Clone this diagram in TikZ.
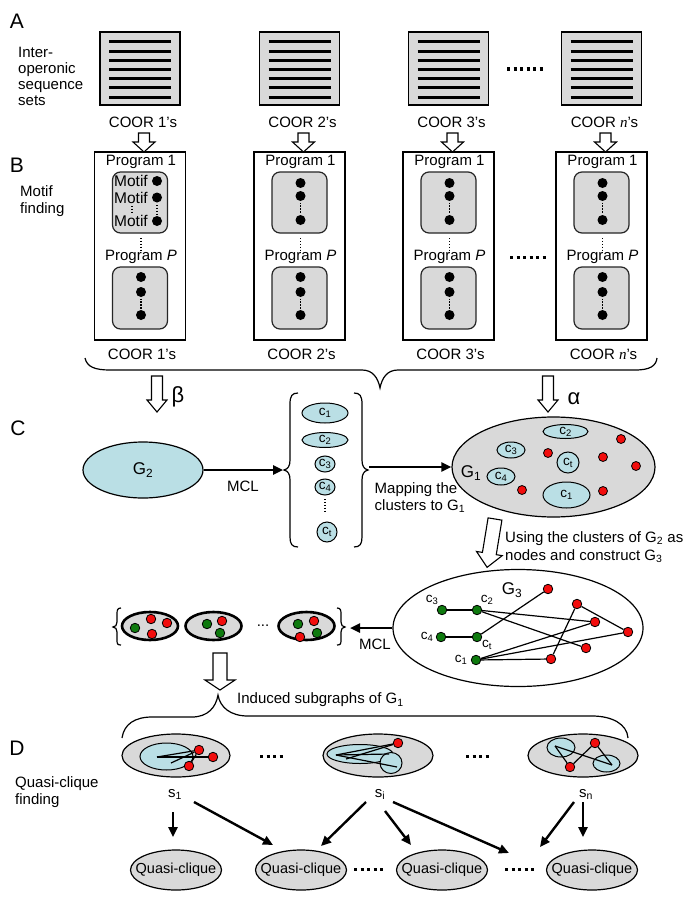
\documentclass[tikz,border=0pt]{standalone}
\usepackage{fontspec}
\setmainfont{Liberation Sans}
\newfontfamily\tnrfont{Liberation Serif}
\usetikzlibrary{shapes.geometric,arrows.meta,calc}
\definecolor{boxgray}{HTML}{D9D9D9}
\definecolor{cyanfill}{HTML}{BADFE5}
\definecolor{nred}{HTML}{F20D0D}
\definecolor{ngreen}{HTML}{0E7A0E}
\newcommand{\mysub}[1]{\textsubscript{#1}}
\newcommand{\nit}{{\tnrfont\itshape n}}
\newcommand{\hollowarrow}[6]{%
  \begin{scope}[shift={(#1)},rotate=#2]
    \draw[hollowstyle] (-#4,0) -- (#4,0) -- (#4,#3-#6) -- (#5,#3-#6) -- (0,#3) -- (-#5,#3-#6) -- (-#4,#3-#6) -- cycle;
  \end{scope}}
\begin{document}
\begin{tikzpicture}[x=1pt,y=-1pt,
  hollowstyle/.style={draw=black,line width=1.1pt,fill=white,line join=miter},
  txt/.style={font=\fontsize{15}{17}\selectfont,inner sep=0pt},
  seclabel/.style={font=\fontsize{21}{24}\selectfont,inner sep=0pt},
  glabel/.style={font=\fontsize{17}{20}\selectfont,inner sep=0pt},
  clabel/.style={font=\fontsize{13.5}{16}\selectfont,inner sep=0pt},
  greek/.style={font=\fontsize{22}{24}\selectfont,inner sep=0pt},
  abox/.style={draw=black,line width=1.2pt,fill=boxgray,minimum width=80pt,minimum height=73pt,inner sep=0pt},
  bbox/.style={draw=black,line width=1.2pt,fill=white,minimum width=91pt,minimum height=188pt,inner sep=0pt},
  rbox/.style={draw=black!85,line width=1.2pt,fill=boxgray,rounded corners=8pt,minimum width=55pt,inner sep=0pt},
  bdot/.style={circle,fill=black,minimum size=10pt,inner sep=0pt},
  motif/.style={font=\fontsize{15.5}{15.5}\selectfont,inner sep=0pt,anchor=west},
  seqline/.style={line width=3pt},
  vdots/.style={line width=1.3pt,dash pattern=on 1.3pt off 1.6pt},
  hdots/.style={line width=3pt,dash pattern=on 3pt off 3.5pt},
  bracestyle/.style={draw=black,line width=1.2pt},
  thickarrow/.style={line width=2.4pt,-{Triangle[length=10pt,width=9pt]}},
  cyanell/.style={ellipse,draw=black,line width=1pt,fill=cyanfill,inner sep=0pt,font=\fontsize{13.5}{16}\selectfont},
  grayell/.style={ellipse,draw=black,line width=1.2pt,fill=boxgray,inner sep=0pt},
  rnode/.style={circle,draw=black,line width=0.8pt,fill=nred,minimum size=9.5pt,inner sep=0pt},
  gnode/.style={circle,draw=black,line width=0.8pt,fill=ngreen,minimum size=9.5pt,inner sep=0pt},
  kell/.style={ellipse,draw=black,line width=2.6pt,fill=boxgray,minimum width=56pt,minimum height=28pt,inner sep=0pt},
  gedge/.style={line width=1.2pt},
]
\useasboundingbox (0,0) rectangle (685,899);
\fill[white] (0,0) rectangle (685,899);

% ---------------- A ----------------
\node[seclabel] (labA) at (17,21) {A};
\node[txt,align=left,anchor=north west,font=\fontsize{15}{16}\selectfont] (labAtext) at (18,46.5) {Inter-\\operonic\\sequence\\sets};

\foreach \i/\cx/\lab in {1/140/1,2/299.5/2,3/448.5/3,4/601.5/\nit}{
  \node[abox] (A\i) at (\cx,68.5) {};
  \foreach \k in {0,...,6} \draw[seqline] (\cx-31,42+\k*9.17) -- (\cx+31,42+\k*9.17);
  \node[txt] (Al\i) at (\cx+3,122) {COOR \lab’s};
  % ---------------- B boxes ----------------
  \node[bbox] (B\i) at (\cx,246) {};
  \hollowarrow{\cx+4,133}{0}{19}{5.5}{11}{10}
  \node[txt] (P1\i) at (\cx+1,162) {Program 1};
  \node[rbox,minimum height=61pt] (RA\i) at (\cx,202.5) {};
  \node[rbox,minimum height=62pt] (RB\i) at (\cx,298) {};
  \draw[vdots] (\cx+1,238) -- (\cx+1,251);
  \node[txt] (PP\i) at (\cx+1,257) {Program \textit{P}};
  \node[bdot] (RBd1\i) at (\cx+1,277) {};
  \node[bdot] (RBd2\i) at (\cx+1,292) {};
  \node[bdot] (RBd3\i) at (\cx+1,315) {};
  \draw[vdots] (\cx+1,298.5) -- (\cx+1,309);
  \node[txt] (Bl\i) at (\cx+2,354) {COOR \lab’s};
  \ifnum\i>1
    \node[bdot] (RAd1\i) at (\cx+1,183) {};
    \node[bdot] (RAd2\i) at (\cx+1,196) {};
    \node[bdot] (RAd3\i) at (\cx+1,220) {};
    \draw[vdots] (\cx+1,202.5) -- (\cx+1,213.5);
  \fi
}
\node[motif] (m1) at (114,181) {Motif};
\node[motif] (m2) at (114,197.5) {Motif};
\node[motif] (m3) at (114,221) {Motif};
\node[bdot] (md1) at (157,181) {};
\node[bdot] (md2) at (157,197.5) {};
\node[bdot] (md3) at (157,221) {};
\draw[vdots] (132,206) -- (132,213);
\draw[vdots] (157,205) -- (157,214);

\draw[hdots] (507,69) -- (543,69);
\draw[hdots] (510,257) -- (546,257);

\node[seclabel] (labB) at (17,165) {B};
\node[txt,align=left,anchor=north west] (labBtext) at (20,185) {Motif\\finding};

% brace under B
\draw[bracestyle] (85,358) .. controls (87,367) and (95,370) .. (110,370) -- (362,370) .. controls (373,370) and (378,378) .. (380,388) .. controls (382,378) and (387,370) .. (398,370) -- (635,370) .. controls (650,370) and (656,366) .. (657,358);

\hollowarrow{157,376}{0}{36}{5.5}{10}{12}
\node[greek] (beta) at (178,397) {β};
\hollowarrow{548,376}{0}{36}{5.5}{10}{12}
\node[greek] (alpha) at (574,399) {α};

% ---------------- C ----------------
\node[seclabel] (labC) at (18,428) {C};
\node[ellipse,draw=black,line width=1.2pt,fill=cyanfill,minimum width=120pt,minimum height=56pt,glabel] (G2) at (143,470) {G\mysub{2}};

\node[cyanell,minimum width=46pt,minimum height=20pt] (k1) at (325,413) {c\mysub{1}};
\node[cyanell,minimum width=46pt,minimum height=15pt] (k2) at (325,440) {c\mysub{2}};
\node[cyanell,minimum width=20pt,minimum height=16pt] (k3) at (325,464) {c\mysub{3}};
\node[cyanell,minimum width=20pt,minimum height=16pt] (k4) at (325,487) {c\mysub{4}};
\draw[vdots] (325,499) -- (325,513);
\node[cyanell,minimum width=20pt,minimum height=20pt] (kt) at (327,532) {c\mysub{t}};

\draw[bracestyle] (298,393) .. controls (292,393) and (290,396) .. (290,404) -- (290,460) .. controls (290,466) and (288,469) .. (284,470) .. controls (288,471) and (290,474) .. (290,480) -- (290,537) .. controls (290,544) and (292,547) .. (298,547);
\draw[bracestyle] (354,393) .. controls (360,393) and (362,396) .. (362,404) -- (362,460) .. controls (362,466) and (364,469) .. (368,470) .. controls (364,471) and (362,474) .. (362,480) -- (362,537) .. controls (362,544) and (360,547) .. (354,547);
\coordinate (colL) at (283,470);
\coordinate (colR) at (369,467);

\node[grayell,minimum width=203pt,minimum height=100pt] (G1) at (553.5,467) {};
\node[glabel] (G1lab) at (471,473) {G\mysub{1}};
\node[cyanell,minimum width=45pt,minimum height=14pt] (gc2) at (565.5,431.5) {c\mysub{2}};
\node[cyanell,minimum width=28pt,minimum height=16pt] (gc3) at (511,450) {c\mysub{3}};
\node[cyanell,minimum width=22pt,minimum height=21pt] (gct) at (568,462.5) {c\mysub{t}};
\node[cyanell,minimum width=28pt,minimum height=17pt] (gc4) at (501,476.5) {c\mysub{4}};
\node[cyanell,minimum width=47pt,minimum height=26pt] (gc1) at (566.5,495) {c\mysub{1}};
\node[rnode,minimum size=9pt] (g1r1) at (548,453) {};
\node[rnode,minimum size=9pt] (g1r2) at (603,457) {};
\node[rnode,minimum size=9pt] (g1r3) at (621,439) {};
\node[rnode,minimum size=9pt] (g1r4) at (636,466) {};
\node[rnode,minimum size=9pt] (g1r5) at (522,490) {};
\node[rnode,minimum size=9pt] (g1r6) at (603,491) {};

\draw[thickarrow] (G2.east) -- (colL);
\node[txt] (mcl1) at (243,486) {MCL};
\draw[thickarrow] (colR) -- (G1.west);
\node[txt,align=left,anchor=north west] (maptext) at (374.5,482.5) {Mapping the\\clusters to G\mysub{1}};

\hollowarrow{495,519}{-9.3}{49}{7}{13}{14}
\node[txt,align=left,anchor=north west,font=\fontsize{15}{18}\selectfont] (usetext) at (505,531.5) {Using the clusters of G\mysub{2} as\\nodes and construct G\mysub{3}};

% G3
\node[ellipse,draw=black,line width=1.2pt,fill=white,minimum width=250pt,minimum height=117pt,inner sep=0pt] (G3) at (518,628) {};
\node[glabel] (G3lab) at (512,590) {G\mysub{3}};
\node[gnode] (n3) at (442,610) {};
\node[gnode] (n2) at (477,610) {};
\node[gnode] (n4) at (441,637) {};
\node[gnode] (nt) at (477,637) {};
\node[gnode] (n1) at (476,660) {};
\node[clabel] (n3l) at (432,600) {c\mysub{3}};
\node[clabel] (n2l) at (487,600) {c\mysub{2}};
\node[clabel] (n4l) at (427,637) {c\mysub{4}};
\node[clabel] (ntl) at (487,645) {c\mysub{t}};
\node[clabel] (n1l) at (461,660) {c\mysub{1}};
\node[rnode] (r1) at (548,589) {};
\node[rnode] (r2) at (577,604) {};
\node[rnode] (r3) at (595,622) {};
\node[rnode] (r4) at (628,632) {};
\node[rnode] (r5) at (586,648) {};
\node[rnode] (r6) at (551,659) {};
\draw[gedge] (n3) -- (n2);
\draw[gedge] (n4) -- (nt);
\draw[gedge] (n2) -- (r3);
\draw[gedge] (n2) -- (r5);
\draw[gedge] (nt) -- (r1);
\draw[gedge] (r2) -- (r4);
\draw[gedge] (r2) -- (r6);
\draw[gedge] (n1) -- (r3);
\draw[gedge] (n1) -- (r4);
\draw[gedge] (n1) -- (r6);

% cluster row
\node[kell] (K1) at (150,626) {};
\node[kell] (K2) at (213.5,626) {};
\node[kell] (K3) at (306.5,626) {};
\node[gnode] (K1a) at (135,628) {};
\node[rnode] (K1b) at (151,619) {};
\node[rnode] (K1c) at (167,623) {};
\node[rnode] (K1d) at (152,634) {};
\node[gnode] (K2a) at (207,624) {};
\node[rnode] (K2b) at (222,621) {};
\node[gnode] (K2c) at (220,633) {};
\node[gnode] (K3a) at (298,624) {};
\node[rnode] (K3b) at (314,621) {};
\node[rnode] (K3c) at (300,637) {};
\node[gnode] (K3d) at (317,633) {};
\node[txt] (kdots) at (263,626) {...};
\draw[bracestyle] (121,608) .. controls (117.5,608) and (117,610) .. (117,614) -- (117,622) .. controls (117,625) and (115.5,627) .. (113,627) .. controls (115.5,627) and (117,629) .. (117,632) -- (117,640) .. controls (117,644) and (117.5,645) .. (121,645);
\draw[bracestyle] (337,608) .. controls (340.5,608) and (341,610) .. (341,614) -- (341,622) .. controls (341,625) and (342.5,627) .. (345,627) .. controls (342.5,627) and (341,629) .. (341,632) -- (341,640) .. controls (341,644) and (340.5,645) .. (337,645);
\coordinate (clR) at (350,628);
\draw[thickarrow] (G3.west) -- (clR);
\node[txt] (mcl2) at (375,644) {MCL};

\hollowarrow{220,653}{0}{37}{7}{15}{10}
\node[txt,anchor=west] (indtext) at (237,700) {Induced subgraphs of G\mysub{1}};
\draw[bracestyle] (122,738) .. controls (124,724) and (135,717) .. (152,717) -- (192,717) .. controls (208,717) and (216,707) .. (218,695) .. controls (220,707) and (230,716) .. (248,716) -- (592,716) .. controls (612,716) and (627,724) .. (628,738);

% ---------------- D ----------------
\node[seclabel] (labD) at (17,748) {D};
\node[txt,align=left,anchor=north west] (labDtext) at (15,776.5) {Quasi-clique\\finding};

% S1
\node[grayell,minimum width=108pt,minimum height=43pt] (S1) at (176,755.5) {};
\node[cyanell,minimum width=53pt,minimum height=27pt] (S1c) at (166.5,756.5) {};
\node[rnode] (S1r1) at (199,750) {};
\node[rnode] (S1r2) at (213,757) {};
\node[rnode] (S1r3) at (189,766) {};
\coordinate (S1p1) at (157,757);
\coordinate (S1p2) at (171,763);
\draw[gedge] (S1p1) -- (S1r1);
\draw[gedge] (S1p1) -- (S1r2);
\draw[gedge] (S1p2) -- (S1r1);
\draw[gedge] (S1r3) -- (S1r1);

% Si
\node[grayell,minimum width=110pt,minimum height=43pt] (Si) at (378,755.5) {};
\node[cyanell,minimum width=66pt,minimum height=19pt] (Sic1) at (360,754) {};
\node[cyanell,minimum width=22pt,minimum height=21pt] (Sic2) at (391,763) {};
\node[rnode] (Sir) at (398,743) {};
\coordinate (Sip1) at (336,755);
\coordinate (Sip2) at (346,759);
\coordinate (Siq1) at (389,754);
\coordinate (Siq2) at (397,767);
\draw[gedge] (Sip1) -- (Sir);
\draw[gedge] (Sip1) -- (Siq1);
\draw[gedge] (Sip1) -- (Siq2);
\draw[gedge] (Sip2) -- (Sir);

% Sn
\node[grayell,minimum width=110pt,minimum height=43pt] (Sn) at (583,755.5) {};
\node[cyanell,minimum width=28pt,minimum height=19pt] (Snc1) at (561,747.5) {};
\node[cyanell,minimum width=27pt,minimum height=17pt] (Snc2) at (606.5,763.5) {};
\node[rnode] (Snr1) at (595,743) {};
\node[rnode] (Snr2) at (570,767) {};
\coordinate (Snp1) at (555,746);
\coordinate (Snp2) at (612,765);
\draw[gedge] (Snp1) -- (Snr2);
\draw[gedge] (Snr2) -- (Snr1);
\draw[gedge] (Snr1) -- (Snp2);
\draw[gedge] (Snp1) -- (Snp2);

\draw[hdots] (260,756) -- (283,756);
\draw[hdots] (466,756) -- (489,756);

\node[txt,anchor=base] (s1l) at (175,797) {s\mysub{1}};
\node[txt,anchor=base] (sil) at (380,797) {s\mysub{i}};
\node[txt,anchor=base] (snl) at (586,797) {s\mysub{n}};

% Quasi-cliques
\foreach \q/\qx in {1/176,2/301,3/442,4/592}{
  \node[grayell,minimum width=91pt,minimum height=40pt] (Q\q) at (\qx,870) {};
  \node[txt,font=\fontsize{14.5}{16}\selectfont] (Qt\q) at (Q\q) {Quasi-clique};
}
\draw[hdots] (354,869) -- (384,869);
\draw[hdots] (505,869) -- (535,869);

\coordinate (a1s) at (173,812); \coordinate (a1e) at (173,837);
\coordinate (a2s) at (194,802); \coordinate (a2e) at (273,845);
\coordinate (a3s) at (366,802); \coordinate (a3e) at (321,846);
\coordinate (a4s) at (385,811); \coordinate (a4e) at (411,845);
\coordinate (a5s) at (393,802); \coordinate (a5e) at (509,853);
\coordinate (a6s) at (574,802); \coordinate (a6e) at (540,847);
\coordinate (a7s) at (583,802); \coordinate (a7e) at (583,837);
\foreach \a in {1,...,7} \draw[thickarrow] (a\a s) -- (a\a e);
\end{tikzpicture}
\end{document}
